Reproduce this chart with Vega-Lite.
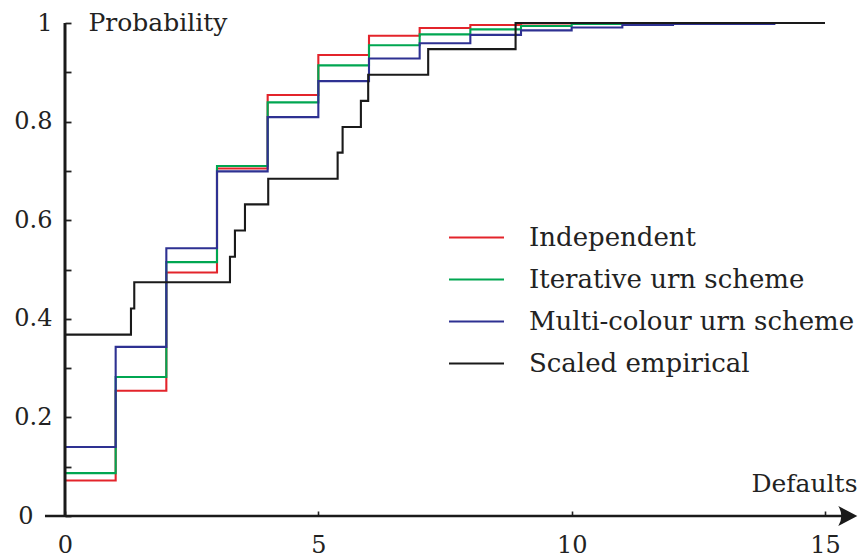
{
  "$schema": "https://vega.github.io/schema/vega-lite/v6.json",
  "width": 760,
  "height": 493,
  "autosize": {"type": "none"},
  "padding": {"left": 65, "top": 23, "right": 34, "bottom": 41},
  "background": "white",
  "config": {
    "view": {"stroke": null},
    "font": "DejaVu Serif",
    "axis": {"labelFont": "DejaVu Serif", "titleFont": "DejaVu Serif", "labelColor": "#222", "titleColor": "#222", "titleFontWeight": "normal", "domainColor": "#222", "tickColor": "#222", "grid": false}
  },
  "datasets": {
    "curves": [
      {"series": "Independent", "x": 0, "p": 0.072},
      {"series": "Independent", "x": 1, "p": 0.254},
      {"series": "Independent", "x": 2, "p": 0.494},
      {"series": "Independent", "x": 3, "p": 0.705},
      {"series": "Independent", "x": 4, "p": 0.854},
      {"series": "Independent", "x": 5, "p": 0.935},
      {"series": "Independent", "x": 6, "p": 0.974},
      {"series": "Independent", "x": 7, "p": 0.99},
      {"series": "Independent", "x": 8, "p": 0.996},
      {"series": "Independent", "x": 9, "p": 0.999},
      {"series": "Independent", "x": 10, "p": 1.0},
      {"series": "Independent", "x": 15, "p": 1.0},
      {"series": "Iterative urn scheme", "x": 0, "p": 0.087},
      {"series": "Iterative urn scheme", "x": 1, "p": 0.282},
      {"series": "Iterative urn scheme", "x": 2, "p": 0.515},
      {"series": "Iterative urn scheme", "x": 3, "p": 0.71},
      {"series": "Iterative urn scheme", "x": 4, "p": 0.839},
      {"series": "Iterative urn scheme", "x": 5, "p": 0.914},
      {"series": "Iterative urn scheme", "x": 6, "p": 0.955},
      {"series": "Iterative urn scheme", "x": 7, "p": 0.977},
      {"series": "Iterative urn scheme", "x": 8, "p": 0.987},
      {"series": "Iterative urn scheme", "x": 9, "p": 0.994},
      {"series": "Iterative urn scheme", "x": 10, "p": 0.998},
      {"series": "Iterative urn scheme", "x": 11, "p": 1.0},
      {"series": "Iterative urn scheme", "x": 15, "p": 1.0},
      {"series": "Multi-colour urn scheme", "x": 0, "p": 0.14},
      {"series": "Multi-colour urn scheme", "x": 1, "p": 0.343},
      {"series": "Multi-colour urn scheme", "x": 2, "p": 0.543},
      {"series": "Multi-colour urn scheme", "x": 3, "p": 0.699},
      {"series": "Multi-colour urn scheme", "x": 4, "p": 0.809},
      {"series": "Multi-colour urn scheme", "x": 5, "p": 0.882},
      {"series": "Multi-colour urn scheme", "x": 6, "p": 0.928},
      {"series": "Multi-colour urn scheme", "x": 7, "p": 0.959},
      {"series": "Multi-colour urn scheme", "x": 8, "p": 0.976},
      {"series": "Multi-colour urn scheme", "x": 9, "p": 0.985},
      {"series": "Multi-colour urn scheme", "x": 10, "p": 0.991},
      {"series": "Multi-colour urn scheme", "x": 11, "p": 0.996},
      {"series": "Multi-colour urn scheme", "x": 12, "p": 0.998},
      {"series": "Multi-colour urn scheme", "x": 14, "p": 1.0},
      {"series": "Multi-colour urn scheme", "x": 15, "p": 1.0},
      {"series": "Scaled empirical", "x": 0, "p": 0.368},
      {"series": "Scaled empirical", "x": 1.302, "p": 0.421},
      {"series": "Scaled empirical", "x": 1.367, "p": 0.474},
      {"series": "Scaled empirical", "x": 3.256, "p": 0.526},
      {"series": "Scaled empirical", "x": 3.354, "p": 0.579},
      {"series": "Scaled empirical", "x": 3.552, "p": 0.632},
      {"series": "Scaled empirical", "x": 4.011, "p": 0.684},
      {"series": "Scaled empirical", "x": 5.381, "p": 0.737},
      {"series": "Scaled empirical", "x": 5.479, "p": 0.789},
      {"series": "Scaled empirical", "x": 5.84, "p": 0.842},
      {"series": "Scaled empirical", "x": 5.984, "p": 0.895},
      {"series": "Scaled empirical", "x": 7.168, "p": 0.947},
      {"series": "Scaled empirical", "x": 8.893, "p": 1.0},
      {"series": "Scaled empirical", "x": 15, "p": 1.0}
    ],
    "axisline": [{"from": -0.395, "to": 15.4, "base": 0, "tip": 15.44, "ylow": 0, "yhigh": 1}]
  },
  "layer": [
    {
      "data": {"name": "curves"},
      "mark": {"type": "line", "interpolate": "step-after", "strokeWidth": 2.1},
      "encoding": {
        "x": {
          "field": "x", "type": "quantitative",
          "scale": {"domain": [0, 15], "nice": false, "zero": false},
          "axis": {
            "values": [0, 5, 10, 15],
            "domain": false,
            "offset": -5,
            "tickSize": 5,
            "tickWidth": 1.6,
            "tickColor": "#222",
            "labelFontSize": 24,
            "labelPadding": 17,
            "labelFlush": false,
            "format": "d",
            "title": "Defaults",
            "titleFontSize": 25,
            "titleAngle": 0,
            "titleAlign": "right",
            "titleBaseline": "middle",
            "titleX": 792,
            "titleY": -28
          }
        },
        "y": {
          "field": "p", "type": "quantitative",
          "scale": {"domain": [0, 1], "nice": false},
          "axis": {
            "values": [0, 0.05, 0.1, 0.15, 0.2, 0.25, 0.3, 0.35, 0.4, 0.45, 0.5, 0.55, 0.6, 0.65, 0.7, 0.75, 0.8, 0.85, 0.9, 0.95, 1],
            "labelExpr": "abs(datum.value*5 - round(datum.value*5)) < 0.001 ? format(datum.value, '~g') : ''",
            "domain": false,
            "offset": -6,
            "tickSize": 6,
            "tickWidth": 1.8,
            "tickColor": "#222",
            "labelFontSize": 24,
            "labelPadding": {"condition": {"test": "datum.value == 0", "value": 32}, "value": 13},
            "labelFlush": false,
            "title": "Probability",
            "titleFontSize": 25,
            "titleAngle": 0,
            "titleAlign": "left",
            "titleBaseline": "middle",
            "titleX": 17,
            "titleY": -1
          }
        },
        "color": {
          "field": "series", "type": "nominal",
          "scale": {
            "domain": ["Independent", "Iterative urn scheme", "Multi-colour urn scheme", "Scaled empirical"],
            "range": ["#e3242b", "#00a651", "#2e3192", "#1a1a1a"]
          },
          "legend": {
            "title": null,
            "orient": "none",
            "legendX": 383,
            "legendY": 186,
            "symbolType": "stroke",
            "symbolSize": 3025,
            "symbolStrokeWidth": 2,
            "labelFont": "DejaVu Serif",
            "labelFontSize": 26,
            "labelColor": "#222",
            "labelOffset": 24,
            "labelLimit": 0,
            "rowPadding": 0
          }
        }
      }
    },
    {
      "data": {"name": "axisline"},
      "mark": {"type": "rule", "strokeWidth": 2.4, "color": "#1a1a1a"},
      "encoding": {
        "x": {"field": "from", "type": "quantitative"},
        "x2": {"field": "to"},
        "y": {"field": "base", "type": "quantitative"}
      }
    },
    {
      "data": {"name": "axisline"},
      "mark": {"type": "rule", "strokeWidth": 3, "color": "#1a1a1a"},
      "encoding": {
        "x": {"field": "base", "type": "quantitative"},
        "y": {"field": "ylow", "type": "quantitative"},
        "y2": {"field": "yhigh"}
      }
    },
    {
      "data": {"name": "axisline"},
      "mark": {"type": "point", "shape": "M1,0 L-0.9,-1 Q-0.3,0 -0.9,1 Z", "filled": true, "color": "#1a1a1a", "opacity": 1, "size": 400, "strokeWidth": 0},
      "encoding": {
        "x": {"field": "tip", "type": "quantitative"},
        "y": {"field": "base", "type": "quantitative"}
      }
    }
  ]
}
